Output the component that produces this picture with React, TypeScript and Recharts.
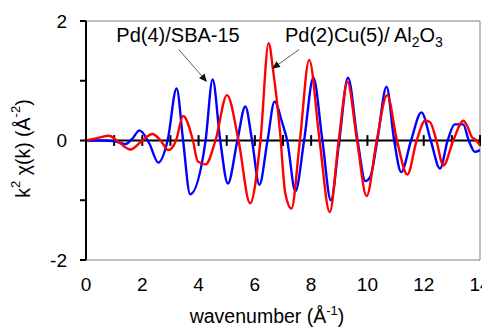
import { Line, LineChart, ReferenceDot, ReferenceLine, XAxis, YAxis } from 'recharts';

// Pd(4)/SBA-15 (blue)
const kBlue = [
  0, 0.5, 1.0, 1.4, 1.65, 1.9, 2.25, 2.57, 2.9, 3.22, 3.45, 3.7, 4.25, 4.5, 4.77, 5.04, 5.38, 5.66, 5.9,
  6.16, 6.45, 6.7, 6.97, 7.15, 7.44, 7.75, 8.08, 8.4, 8.7, 9.0, 9.31, 9.65, 9.93, 10.1, 10.35, 10.68,
  10.95, 11.2, 11.55, 11.92, 12.25, 12.58, 12.85, 13.1, 13.4, 13.6, 13.82, 14.0,
];
const chiBlue = [
  0, 0, -0.01, -0.06, 0.03, 0.17, -0.05, -0.37, 0, 0.87, 0, -0.9, 0, 1.02, 0, -0.72, 0, 0.57, 0,
  -0.74, 0, 0.65, 0.3, 0, -0.85, 0, 1.05, 0, -1.0, 0, 1.05, 0, -0.68, -0.61, 0, 0.9,
  0, -0.53, 0, 0.47, 0, -0.47, 0, 0.27, 0.27, 0, -0.19, -0.16,
];

// Pd(2)Cu(5)/Al2O3 (red)
const kRed = [
  0, 0.4, 0.82, 1.1, 1.58, 2.0, 2.36, 2.65, 2.93, 3.2, 3.45, 3.8, 3.97, 4.25, 4.6, 5.01, 5.42, 5.83, 6.2,
  6.49, 6.65, 6.89, 7.08, 7.3, 7.6, 7.93, 8.3, 8.66, 8.98, 9.29, 9.63, 9.97, 10.33, 10.7, 11.05, 11.42,
  11.75, 12.05, 12.22, 12.45, 12.7, 13.05, 13.41, 13.55, 13.72, 13.8, 14.0,
];
const chiRed = [
  0, 0.04, 0.08, 0, -0.15, 0, 0.11, 0, -0.16, 0, 0.41, 0, -0.35, -0.4, 0, 0.76, 0, -1.05, 0,
  1.63, 1.17, 0.17, -0.88, -1.14, 0, 1.35, 0, -1.2, 0, 0.98, 0, -0.93, 0, 0.76, 0, -0.57,
  0, 0.33, 0.31, 0, -0.42, 0, 0.33, 0.24, 0.05, 0.03, -0.08,
];

const xTicks = [0, 2, 4, 6, 8, 10, 12, 14];
const yTicks = [-2, -1, 0, 1, 2];
const zeroTicks = [1, 2, 3, 4, 5, 6, 7, 8, 9, 10, 11, 12, 13, 14];

const blueData = kBlue.map((k, i) => ({ k, v: chiBlue[i] }));
const redData = kRed.map((k, i) => ({ k, v: chiRed[i] }));

const FONT = '"Liberation Sans", Arial, sans-serif';
const FRAME = '#808080';

function Arrow(props: any) {
  const { x1, y1, x2, y2 } = props;
  const a = Math.atan2(y2 - y1, x2 - x1);
  const len = 8;
  const w = 3.5;
  const bx = x2 - len * Math.cos(a);
  const by = y2 - len * Math.sin(a);
  const px = -Math.sin(a) * w;
  const py = Math.cos(a) * w;
  return (
    <g>
      <line x1={x1} y1={y1} x2={bx} y2={by} stroke="#333" strokeWidth={0.8} />
      <polygon points={`${x2},${y2} ${bx + px},${by + py} ${bx - px},${by - py}`} fill="#111" />
    </g>
  );
}

function XTitle({ viewBox }: any) {
  const cx = viewBox.x + viewBox.width / 2 - 16;
  return (
    <text x={cx} y={viewBox.y + 63} textAnchor="middle" fontSize={19.5} fill="#000" fontFamily={FONT}>
      wavenumber (Å
      <tspan fontSize={13} dy={-8}>-1</tspan>
      <tspan dy={8}>)</tspan>
    </text>
  );
}

function YTitle({ viewBox }: any) {
  const cx = viewBox.x + 15;
  const cy = viewBox.y + viewBox.height / 2 + 8;
  return (
    <text
      x={cx}
      y={cy}
      transform={`rotate(-90 ${cx} ${cy})`}
      textAnchor="middle"
      dominantBaseline="central"
      fontSize={19.5}
      fill="#000"
      fontFamily={FONT}
    >
      k<tspan fontSize={13} dy={-8}>2</tspan>
      <tspan dy={8}> χ(k) (Å</tspan>
      <tspan fontSize={13} dy={-8}>-2</tspan>
      <tspan dy={8}>)</tspan>
    </text>
  );
}

export default function App() {
  return (
    <div style={{ width: 482, height: 321, fontFamily: FONT }}>
      <LineChart width={482} height={321} margin={{ top: 13, right: 10, bottom: 0, left: 0 }}>
        <XAxis
          type="number"
          dataKey="k"
          domain={[0, 14]}
          ticks={xTicks}
          allowDataOverflow
          height={69}
          axisLine={{ stroke: FRAME, strokeWidth: 1 }}
          tickLine={false}
          tickSize={0}
          tickMargin={18}
          tick={{ fontSize: 19, fill: '#000' }}
          label={<XTitle />}
        />
        <YAxis
          type="number"
          domain={[-2, 2]}
          ticks={yTicks}
          width={78}
          axisLine={{ stroke: '#000', strokeWidth: 2 }}
          tickLine={{ stroke: '#000', strokeWidth: 2 }}
          tickSize={6}
          tickMargin={13}
          tick={{ fontSize: 19, fill: '#000' }}
          tickFormatter={(v: number) => (v % 2 === 0 ? String(v) : '')}
          label={<YTitle />}
        />
        <ReferenceLine y={2} stroke={FRAME} strokeWidth={1} />
        <ReferenceLine x={14} stroke={FRAME} strokeWidth={1} />
        <ReferenceLine y={0} stroke="#000" strokeWidth={2} />
        {zeroTicks.map((t) => (
          <ReferenceLine
            key={t}
            segment={[
              { x: t, y: -0.09 },
              { x: t, y: 0.09 },
            ]}
            stroke="#000"
            strokeWidth={2}
          />
        ))}
        <Line
          data={blueData}
          dataKey="v"
          type="monotone"
          stroke="#0000FF"
          strokeWidth={2.4}
          dot={false}
          isAnimationActive={false}
        />
        <Line
          data={redData}
          dataKey="v"
          type="monotone"
          stroke="#FF0000"
          strokeWidth={2.4}
          dot={false}
          isAnimationActive={false}
        />
        <ReferenceLine
          segment={[
            { x: 3.3, y: 1.52 },
            { x: 4.3, y: 0.98 },
          ]}
          shape={Arrow}
        />
        <ReferenceLine
          segment={[
            { x: 7.57, y: 1.52 },
            { x: 6.61, y: 1.2 },
          ]}
          shape={Arrow}
        />
        <ReferenceDot
          x={3.27}
          y={1.65}
          r={0}
          shape={(p: any) => (
            <text x={p.cx} y={p.cy} textAnchor="middle" fontSize={20} fill="#000" fontFamily={FONT}>
              Pd(4)/SBA-15
            </text>
          )}
        />
        <ReferenceDot
          x={7.07}
          y={1.65}
          r={0}
          shape={(p: any) => (
            <text x={p.cx} y={p.cy} textAnchor="start" fontSize={20} fill="#000" fontFamily={FONT}>
              Pd(2)Cu(5)/ Al<tspan fontSize={14} dy={5}>2</tspan>
              <tspan dy={-5}>O</tspan>
              <tspan fontSize={14} dy={5}>3</tspan>
            </text>
          )}
        />
      </LineChart>
    </div>
  );
}
